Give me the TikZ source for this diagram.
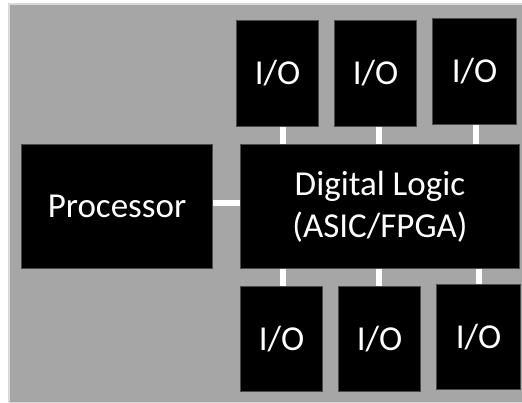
\documentclass[tikz,border=0pt]{standalone}
\usepackage{fontspec}
\setmainfont{Carlito}
\usepackage{tikz}
\tikzset{
    block/.style={rectangle,draw=black!70,line width=0.5pt,fill=black,text=white,
        inner sep=0pt,anchor=north west,align=center,
        font=\fontsize{17.5}{21}\selectfont},
    link/.style={white,line width=3pt}
}

\begin{document}
\begin{tikzpicture}[x=0.5pt,y=-0.5pt]
    \useasboundingbox (0,0) rectangle (522,402);
    \fill[white] (0,0) rectangle (522,402);
    \draw[fill=black!35,draw=black!15,line width=1pt] (8.5,3.5) rectangle (523,403);
    % top row
    \node[block,minimum width=41pt,minimum height=53pt] (iotopa) at (236,20) {I/O};
    \node[block,minimum width=41pt,minimum height=53pt] (iotopb) at (334,20) {I/O};
    \node[block,minimum width=42pt,minimum height=53pt] (iotopc) at (432,18) {I/O};
    % middle row
    \node[block,minimum width=95.5pt,minimum height=62pt] (proc) at (21,144) {Processor};
    \node[block,minimum width=139.5pt,minimum height=62pt] (logic) at (240,144) {Digital Logic\\(ASIC/FPGA)};
    % bottom row
    \node[block,minimum width=41pt,minimum height=52.5pt] (iobota) at (240,286) {I/O};
    \node[block,minimum width=41pt,minimum height=52.5pt] (iobotb) at (338,286) {I/O};
    \node[block,minimum width=42pt,minimum height=52.5pt] (iobotc) at (436,284) {I/O};
    % connectors
    \coordinate (ca) at (283,0);
    \coordinate (cb) at (379,0);
    \coordinate (cc) at (476,0);
    \coordinate (cd) at (479,0);
    \coordinate (cp) at (0,203);
    \draw[link] (iotopa.south -| ca) -- (logic.north -| ca);
    \draw[link] (iotopb.south -| cb) -- (logic.north -| cb);
    \draw[link] (iotopc.south -| cc) -- (logic.north -| cc);
    \draw[link] (logic.south -| ca) -- (iobota.north -| ca);
    \draw[link] (logic.south -| cb) -- (iobotb.north -| cb);
    \draw[link] (logic.south -| cd) -- (iobotc.north -| cd);
    \draw[link] (proc.east |- cp) -- (logic.west |- cp);
\end{tikzpicture}
\end{document}
